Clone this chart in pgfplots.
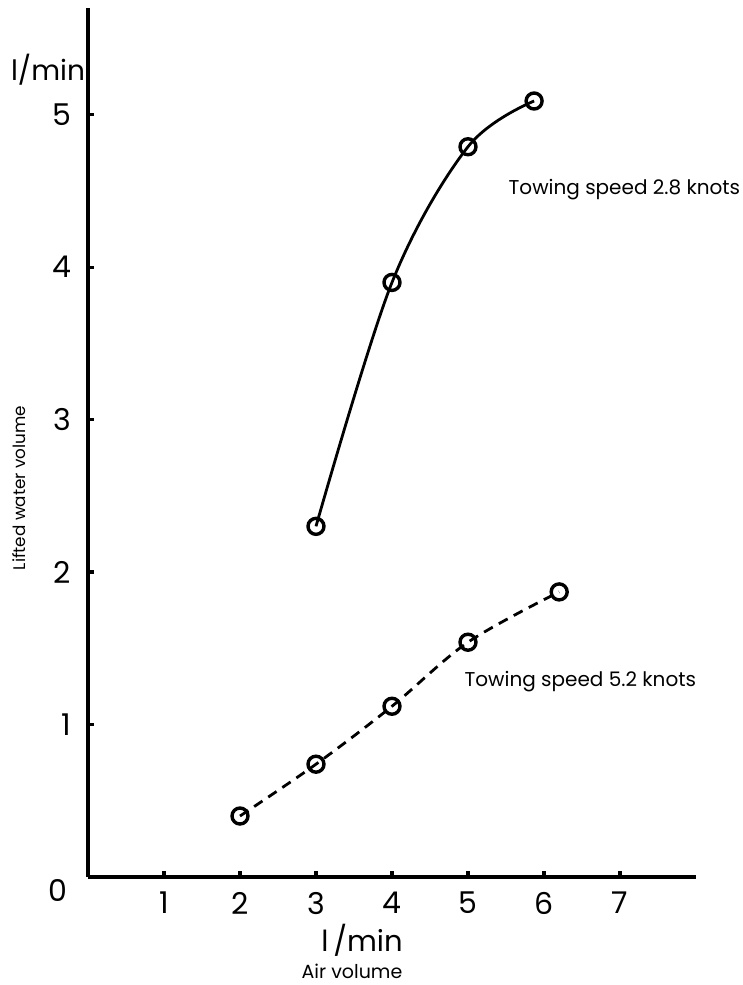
\documentclass[border=0pt]{standalone}
\usepackage{fontspec}
\setmainfont{Poppins}
\usepackage{pgfplots}
\pgfplotsset{compat=1.18}
\begin{document}
\begin{tikzpicture}
\useasboundingbox (-44pt,-54pt) rectangle (327.5pt,438.5pt);
\begin{axis}[
  at={(0,0)}, anchor=south west,
  scale only axis,
  width=304pt, height=434.5pt,
  xmin=0, xmax=8, ymin=0, ymax=5.7,
  axis lines=left,
  axis line style={-, line width=1.8pt},
  xtick={1,2,3,4,5,6,7}, ytick={1,2,3,4,5},
  tick align=inside,
  major tick length=3pt,
  tick style={line width=1.6pt, black},
  /pgf/number format/assume math mode=true,
  ticklabel style={font=\fontsize{15}{18}\selectfont},
  xticklabel style={yshift=-4pt},
  yticklabel style={xshift=-5pt},
  clip=false,
]
\addplot[black, line width=1.4pt, smooth, tension=0.55,
  mark=o, mark size=4pt, mark options={solid, fill=white, line width=1.7pt}]
  coordinates {(3,2.3) (4,3.9) (5,4.79) (5.87,5.09)};
\addplot[black, line width=1.4pt, smooth, tension=0.55,
  dash pattern=on 5pt off 3.5pt,
  mark=o, mark size=4pt, mark options={solid, fill=white, line width=1.7pt}]
  coordinates {(2,0.4) (3,0.74) (4,1.12) (5,1.54) (6.2,1.87)};
\node[anchor=west, inner sep=0pt, font=\fontsize{10}{12}\selectfont] at (axis cs:5.53,4.51) {Towing speed 2.8 knots};
\node[anchor=west, inner sep=0pt, font=\fontsize{10}{12}\selectfont] at (axis cs:4.95,1.28) {Towing speed 5.2 knots};
\node[font=\fontsize{15}{18}\selectfont] at ([shift={(-15pt,-6.5pt)}]axis cs:0,0) {0};
\node[font=\fontsize{14}{16}\selectfont] at ([shift={(-20pt,403.5pt)}]axis cs:0,0) {l/min};
\node[font=\fontsize{14.5}{16}\selectfont] at ([shift={(137pt,-31.5pt)}]axis cs:0,0) {l\,/min};
\node[font=\fontsize{9.5}{11}\selectfont] at ([shift={(132pt,-47pt)}]axis cs:0,0) {Air volume};
\node[rotate=90, font=\fontsize{8.4}{10}\selectfont] at ([shift={(-34.5pt,194.5pt)}]axis cs:0,0) {Lifted water volume};
\end{axis}
\end{tikzpicture}
\end{document}
